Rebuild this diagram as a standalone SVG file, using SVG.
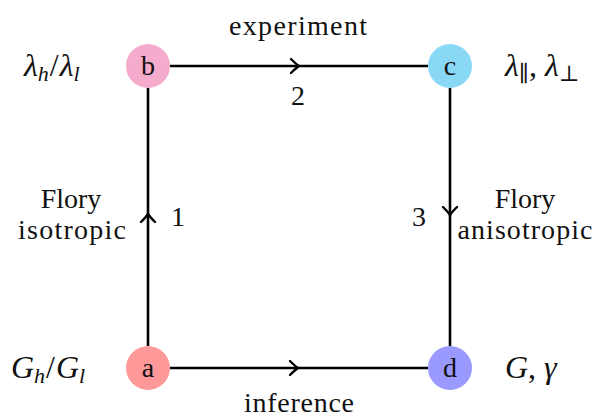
<svg xmlns="http://www.w3.org/2000/svg" width="596" height="419" viewBox="0 0 596 419">
<style>
text{font-family:"Liberation Serif","Times New Roman",Tinos,Times,"Noto Serif","DejaVu Serif",FreeSerif,serif;font-size:28px;fill:#111;}
.m{font-style:italic;}
.big{font-size:32px;}
.sub{font-size:22px;}
.e{stroke:#000;stroke-width:2.6;fill:none;}
.ah{stroke:#000;stroke-width:2.4;fill:none;stroke-linecap:round;stroke-linejoin:round;}
</style>
<rect width="596" height="419" fill="#fff"/>
<g id="connectors">
  <line class="e" x1="170" y1="66" x2="428" y2="66"/>
  <path class="ah" d="M291,59 Q296,64 299,66 Q296,68 291,73"/>
  <line class="e" x1="170" y1="368" x2="428" y2="368"/>
  <path class="ah" d="M290,361 Q295,366 298,368 Q295,370 290,375"/>
  <line class="e" x1="148" y1="346" x2="148" y2="88"/>
  <path class="ah" d="M141,222 Q146,217 148,214 Q150,217 155,222"/>
  <line class="e" x1="450" y1="88" x2="450" y2="346"/>
  <path class="ah" d="M443,207 Q448,212 450,215 Q452,212 457,207"/>
  <text x="298" y="35" text-anchor="middle" textLength="138">experiment</text>
  <text x="298" y="105" text-anchor="middle">2</text>
  <text x="299" y="412" text-anchor="middle" textLength="110">inference</text>
  <text x="178" y="226" text-anchor="middle">1</text>
  <text x="71" y="208" text-anchor="middle">Flory</text>
  <text x="72" y="239" text-anchor="middle" textLength="108">isotropic</text>
  <text x="419" y="226" text-anchor="middle">3</text>
  <text x="525" y="208" text-anchor="middle">Flory</text>
  <text x="525" y="239" text-anchor="middle" textLength="135">anisotropic</text>
</g>
<g id="node-b">
  <circle cx="148" cy="66" r="22" fill="#F4ABCC"/>
  <text x="148" y="75" text-anchor="middle">b</text>
  <text class="big" x="24" y="76"><tspan class="m">λ</tspan><tspan class="m sub" dy="5">h</tspan><tspan dy="-5" dx="1">/</tspan><tspan class="m" dx="1">λ</tspan><tspan class="m sub" dy="5">l</tspan></text>
</g>
<g id="node-c">
  <circle cx="450" cy="66" r="22" fill="#88D8F6"/>
  <text x="450" y="75" text-anchor="middle">c</text>
  <text class="big" x="505" y="76"><tspan class="m">λ</tspan><tspan class="sub" dy="5">∥</tspan><tspan dy="-5">,  </tspan><tspan class="m">λ</tspan><tspan class="sub" dy="5">⊥</tspan></text>
</g>
<g id="node-a">
  <circle cx="148" cy="368" r="22" fill="#FF9999"/>
  <text x="148" y="377" text-anchor="middle">a</text>
  <text class="big" x="11" y="378"><tspan class="m">G</tspan><tspan class="m sub" dy="5">h</tspan><tspan dy="-5" dx="1">/</tspan><tspan class="m" dx="1">G</tspan><tspan class="m sub" dy="5">l</tspan></text>
</g>
<g id="node-d">
  <circle cx="450" cy="368" r="22" fill="#9999FF"/>
  <text x="450" y="377" text-anchor="middle">d</text>
  <text class="big" x="505" y="378"><tspan class="m">G</tspan>,  <tspan class="m">γ</tspan></text>
</g>
</svg>
